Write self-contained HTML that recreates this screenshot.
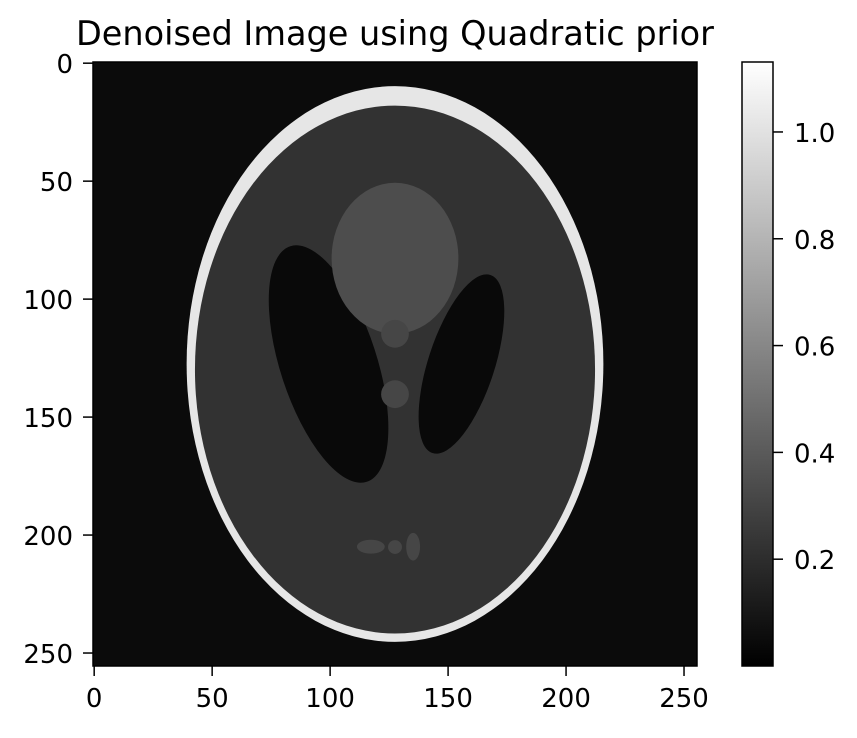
<!DOCTYPE html>
<html><head><meta charset="utf-8">
<style>
body{margin:0;background:#fff;font-family:"DejaVu Sans",sans-serif;}
svg text{font-family:"DejaVu Sans",sans-serif;fill:#000;}
</style></head>
<body>
<svg id="chart" width="857" height="734" xmlns="http://www.w3.org/2000/svg">
<defs>
<linearGradient id="cbg" x1="0" y1="1" x2="0" y2="0">
<stop offset="0" stop-color="#000"/><stop offset="1" stop-color="#fff"/>
</linearGradient>
<clipPath id="imgclip"><rect x="93" y="62" width="604" height="604"/></clipPath>
</defs>
<text x="395" y="45" font-size="33.5" text-anchor="middle">Denoised Image using Quadratic prior</text>
<g id="img" clip-path="url(#imgclip)"></g>
<rect x="93" y="62" width="604" height="604" fill="none" stroke="#000" stroke-width="1.5"/>
<g id="xaxis"></g>
<g id="yaxis"></g>
<rect x="742" y="62" width="31" height="604" fill="url(#cbg)" stroke="#000" stroke-width="1.5"/>
<g id="cbaxis"></g>
</svg>
<script>
// Shepp-Logan ellipses: absolute intensity, half-axes a,b, center x0,y0, angle (deg)
const ellipseValues = [1.0, 0.2, 0.0, 0.0, 0.3, 0.27, 0.27, 0.27, 0.27, 0.27];
const ellipseA = [0.69, 0.6624, 0.11, 0.16, 0.21, 0.046, 0.046, 0.046, 0.023, 0.023];
const ellipseB = [0.92, 0.874, 0.31, 0.41, 0.25, 0.046, 0.046, 0.023, 0.023, 0.046];
const ellipseX0 = [0, 0, 0.22, -0.22, 0, 0, 0, -0.08, 0, 0.06];
const ellipseY0 = [0, -0.0184, 0, 0, 0.35, 0.1, -0.1, -0.605, -0.606, -0.605];
const ellipseAngle = [0, 0, 18, -18, 0, 0, 0, 0, 0, 0];
const axisTicks = [0, 50, 100, 150, 200, 250];
const cbTicks = [0.2, 0.4, 0.6, 0.8, 1.0];
const cbMin = 0, cbMax = 1.131;
const bgValue = 0.03;

const NS = "http://www.w3.org/2000/svg";
const L = 93, T = 62, S = 604/256;
const px = c => L + (c + 0.5) * S;
const py = r => T + (r + 0.5) * S;
const cbY = v => 666 - (v - cbMin) / (cbMax - cbMin) * 604;
function gray(v){const g=Math.max(0,Math.min(255,Math.round((v+0.02-cbMin)/(cbMax-cbMin)*255)));return `rgb(${g},${g},${g})`;}
function mk(tag, attrs, parent){const e=document.createElementNS(NS,tag);for(const k in attrs)e.setAttribute(k,attrs[k]);parent.appendChild(e);return e;}

const img = document.getElementById('img');
const bg = mk('rect',{x:L,y:T,width:604,height:604,fill:gray(bgValue)},img);


for (let i=0;i<ellipseValues.length;i++){
  const col = 127.5 + ellipseX0[i]*128, row = 127.5 - ellipseY0[i]*128;
  const cx = px(col), cy = py(row);
  const e = mk('ellipse',{cx:cx,cy:cy,rx:ellipseA[i]*128*S,ry:ellipseB[i]*128*S,
    fill:gray(ellipseValues[i]+ (i>=2?0.02:0)),transform:`rotate(${ellipseAngle[i]} ${cx} ${cy})`},img);
  
  
}

const xa=document.getElementById('xaxis'), ya=document.getElementById('yaxis'), ca=document.getElementById('cbaxis');
axisTicks.forEach(t=>{
  const x=px(t);
  mk('line',{x1:x,x2:x,y1:666,y2:676,stroke:'#000','stroke-width':1.5},xa);
  const tx=mk('text',{x:x,y:707,'font-size':26,'text-anchor':'middle'},xa);
  tx.textContent=t;
  
  
  const y=py(t);
  mk('line',{x1:83,x2:93,y1:y,y2:y,stroke:'#000','stroke-width':1.5},ya);
  const ty=mk('text',{x:73,y:y+10,'font-size':26,'text-anchor':'end'},ya);
  ty.textContent=t;
  
  
});
cbTicks.forEach(t=>{
  const y=cbY(t);
  mk('line',{x1:773,x2:783,y1:y,y2:y,stroke:'#000','stroke-width':1.5},ca);
  const tc=mk('text',{x:794,y:y+10,'font-size':26},ca);
  tc.textContent=t.toFixed(1);
  
  
});
</script>
</body></html>
